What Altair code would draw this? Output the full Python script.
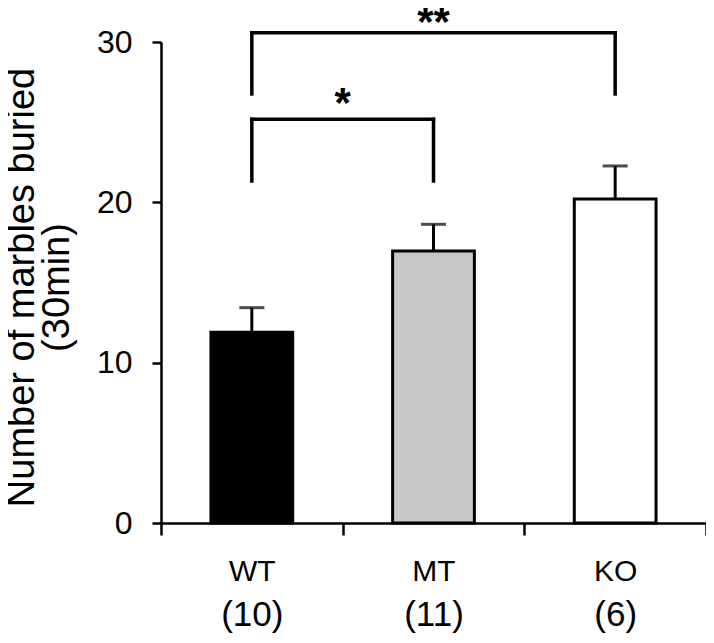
import altair as alt
import pandas as pd

FONT = "Liberation Sans, Arial, sans-serif"

# ---- data ----
groups = ["WT", "MT", "KO"]
group_n = ["(10)", "(11)", "(6)"]
means = [11.9, 16.97, 20.21]
err_upper = [13.43, 18.63, 22.27]
fills = ["#000000", "#c8c8c8", "#ffffff"]

br_from = ["WT", "WT"]
br_to = ["MT", "KO"]
br_top = [25.18, 30.58]
br_leg = [21.33, 26.76]
br_text = ["*", "**"]
br_text_y = [25.33, 30.35]

y_ticks = [0, 10, 20, 30]

# ---- tables ----
bars_df = pd.DataFrame({"group": groups, "n": group_n, "mean": means, "upper": err_upper})

legs_rows = []
for f, t, top, leg in zip(br_from, br_to, br_top, br_leg):
    legs_rows.append({"group": f, "y": leg, "y2": top})
    legs_rows.append({"group": t, "y": leg, "y2": top})
legs_df = pd.DataFrame(legs_rows)
horiz_df = pd.DataFrame({"g1": br_from, "g2": br_to, "y": br_top})
stars_df = pd.DataFrame({
    "mid": [(groups.index(f) + groups.index(t)) / 2 for f, t in zip(br_from, br_to)],
    "y": br_text_y,
    "txt": br_text,
})

x_scale = alt.Scale(domain=groups, paddingInner=0, paddingOuter=0)
y_scale = alt.Scale(domain=[0, 30], nice=False, zero=True)

x_axis = alt.Axis(
    title=None, labelAngle=0, tickBand="extent", tickSize=12, tickWidth=2.5,
    tickColor="black", domainColor="black", domainWidth=2.5,
    labelFontSize=30, labelFont=FONT, labelColor="black", labelPadding=21,
    labelBaseline="top",
)
n_axis = alt.Axis(
    title=None, orient="bottom", labelAngle=0, domain=False, ticks=False, tickSize=0,
    labelFontSize=35, labelFont=FONT, labelColor="black", labelPadding=74,
    labelBaseline="top", grid=False,
)
y_axis = alt.Axis(
    values=y_ticks, grid=False, tickSize=9, tickWidth=2.5, tickColor="black",
    domainColor="black", domainWidth=2.5, labelFontSize=32, labelFont=FONT,
    labelColor="black", labelPadding=20,
    title=["Number of marbles buried", "(30min)"], titleFontSize=38,
    titleFont=FONT, titleFontWeight="normal", titleColor="black",
    titleX=-158, titleY=245, titleAngle=270, titleAlign="center",
    titleBaseline="top", titleLineHeight=35,
)

bars = alt.Chart(bars_df).mark_bar(
    stroke="black", strokeWidth=3, width=alt.RelativeBandSize(0.45)
).encode(
    x=alt.X("group:N", scale=x_scale, axis=x_axis, sort=groups),
    y=alt.Y("mean:Q", scale=y_scale, axis=y_axis),
    fill=alt.Fill("group:N", scale=alt.Scale(domain=groups, range=fills), legend=None),
)

err = alt.Chart(bars_df).mark_rule(color="black", strokeWidth=3).encode(
    x=alt.X("group:N", scale=x_scale, sort=groups),
    y=alt.Y("mean:Q", scale=y_scale),
    y2="upper:Q",
)
caps = alt.Chart(bars_df).mark_tick(color="black", thickness=3, size=25).encode(
    x=alt.X("group:N", scale=x_scale, sort=groups),
    y=alt.Y("upper:Q", scale=y_scale),
)

legs = alt.Chart(legs_df).mark_rule(color="black", strokeWidth=3.5, strokeCap="square").encode(
    x=alt.X("group:N", scale=x_scale, sort=groups),
    y=alt.Y("y:Q", scale=y_scale),
    y2="y2:Q",
)
horiz = alt.Chart(horiz_df).mark_rule(color="black", strokeWidth=3.5, strokeCap="square").encode(
    x=alt.X("g1:N", scale=x_scale, sort=groups),
    x2="g2:N",
    y=alt.Y("y:Q", scale=y_scale),
)

stars = alt.Chart(stars_df).mark_text(
    font=FONT, fontSize=42, fontWeight="bold", baseline="alphabetic", align="center", color="black"
).encode(
    x=alt.X("mid:Q", scale=alt.Scale(domain=[-0.5, len(groups) - 0.5], nice=False, zero=False), axis=None),
    y=alt.Y("y:Q", scale=y_scale),
    text="txt:N",
)

n_layer = alt.Chart(bars_df).mark_point(opacity=0).encode(
    x=alt.X("n:N", scale=alt.Scale(domain=group_n, paddingInner=0, paddingOuter=0),
            sort=group_n, axis=n_axis),
    y=alt.Y("mean:Q", scale=y_scale),
)

main = alt.layer(bars, err, caps, legs, horiz)
chart = alt.layer(main, stars, n_layer).resolve_scale(x="independent").properties(
    width=545, height=481,
    autosize=alt.AutoSizeParams(type="none"),
    padding={"left": 153, "top": 34, "right": 0, "bottom": 112},
).configure(background="white", view=alt.ViewConfig(stroke=None))

chart.save("out.html", embed_options={"renderer": "svg", "actions": False})
